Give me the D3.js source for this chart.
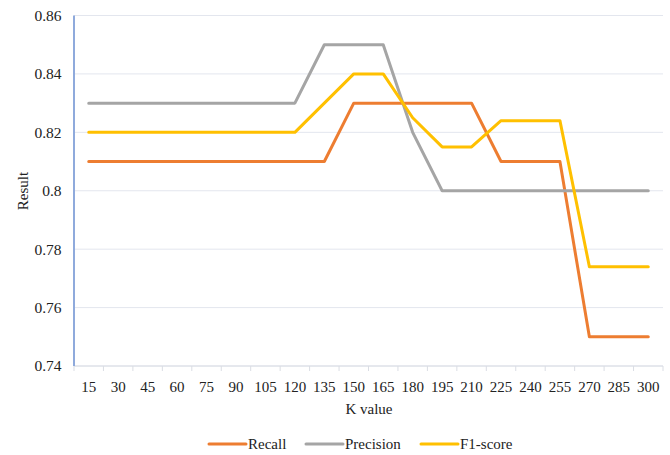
<!DOCTYPE html>
<html>
<head>
<meta charset="utf-8">
<script src="https://cdn.jsdelivr.net/npm/d3@7"></script>
</head>
<body style="margin:0;background:#fff">
<svg id="chart" width="670" height="455" style="display:block" font-family="Liberation Serif, Times New Roman, serif"></svg>
<script>
// K values on the x axis
const kValues = [15, 30, 45, 60, 75, 90, 105, 120, 135, 150, 165, 180, 195, 210, 225, 240, 255, 270, 285, 300];

// Scores per K
const recall    = [0.81, 0.81, 0.81, 0.81, 0.81, 0.81, 0.81, 0.81, 0.81, 0.83, 0.83, 0.83, 0.83, 0.83, 0.81, 0.81, 0.81, 0.75, 0.75, 0.75];
const precision = [0.83, 0.83, 0.83, 0.83, 0.83, 0.83, 0.83, 0.83, 0.85, 0.85, 0.85, 0.82, 0.80, 0.80, 0.80, 0.80, 0.80, 0.80, 0.80, 0.80];
const f1score   = [0.82, 0.82, 0.82, 0.82, 0.82, 0.82, 0.82, 0.82, 0.83, 0.84, 0.84, 0.825, 0.815, 0.815, 0.824, 0.824, 0.824, 0.774, 0.774, 0.774];

const yTicks = [0.74, 0.76, 0.78, 0.80, 0.82, 0.84, 0.86];
const yTickLabels = ["0.74", "0.76", "0.78", "0.8", "0.82", "0.84", "0.86"];

const seriesNames = ["Recall", "Precision", "F1-score"];
const seriesColors = ["#ED7D31", "#A5A5A5", "#FFC000"];
const seriesValues = [recall, precision, f1score];

function draw() {
  const svg = d3.select("#chart");
  const plotLeft = 74, plotRight = 663, plotTop = 15.5, plotBottom = 366;

  const x = d3.scaleBand().domain(kValues).range([plotLeft, plotRight]).padding(0);
  const y = d3.scaleLinear().domain([0.74, 0.86]).range([plotBottom, plotTop]);

  // horizontal gridlines
  svg.append("g").selectAll("line")
    .data(yTicks)
    .join("line")
    .attr("x1", plotLeft).attr("x2", plotRight)
    .attr("y1", d => y(d)).attr("y2", d => y(d))
    .attr("stroke", "#E3E6EE").attr("stroke-width", 1);

  // x axis with ticks between categories
  const xAxis = svg.append("g").attr("transform", `translate(0,${plotBottom})`);
  xAxis.append("line")
    .attr("x1", plotLeft).attr("x2", plotRight).attr("y1", 0).attr("y2", 0)
    .attr("stroke", "#DADDE4").attr("stroke-width", 1);
  const boundaries = kValues.map(k => x(k)).concat([plotRight]);
  xAxis.selectAll("line.tick")
    .data(boundaries)
    .join("line")
    .attr("class", "tick")
    .attr("x1", d => d).attr("x2", d => d)
    .attr("y1", 0).attr("y2", 5)
    .attr("stroke", "#DADDE4").attr("stroke-width", 1);
  xAxis.selectAll("text")
    .data(kValues)
    .join("text")
    .attr("x", d => x(d) + x.bandwidth() / 2)
    .attr("y", 26)
    .attr("text-anchor", "middle")
    .attr("font-size", 15)
    .attr("fill", "#222")
    .text(d => d);

  // y axis line
  svg.append("line")
    .attr("x1", plotLeft).attr("x2", plotLeft)
    .attr("y1", plotTop).attr("y2", plotBottom)
    .attr("stroke", "#8FAADC").attr("stroke-width", 2);

  // y tick labels
  svg.append("g").selectAll("text")
    .data(yTicks)
    .join("text")
    .attr("x", 61.5)
    .attr("y", d => y(d))
    .attr("dy", "0.35em")
    .attr("text-anchor", "end")
    .attr("font-size", 15.5)
    .attr("fill", "#222")
    .text((d, i) => yTickLabels[i]);

  // axis titles
  svg.append("text")
    .attr("transform", `translate(27.5,191) rotate(-90)`)
    .attr("text-anchor", "middle")
    .attr("font-size", 15)
    .attr("fill", "#222")
    .text("Result");

  svg.append("text")
    .attr("x", 369)
    .attr("y", 414)
    .attr("text-anchor", "middle")
    .attr("font-size", 15)
    .attr("fill", "#222")
    .text("K value");

  // series lines
  const line = d3.line()
    .x((d, i) => x(kValues[i]) + x.bandwidth() / 2)
    .y(d => y(d));

  svg.append("g").selectAll("path")
    .data(seriesValues)
    .join("path")
    .attr("d", d => line(d))
    .attr("fill", "none")
    .attr("stroke", (d, i) => seriesColors[i])
    .attr("stroke-width", 3)
    .attr("stroke-linejoin", "round")
    .attr("stroke-linecap", "round");

  // legend
  const legendX = [209, 306, 421];
  const legend = svg.append("g").selectAll("g")
    .data(seriesNames)
    .join("g")
    .attr("transform", (d, i) => `translate(${legendX[i]},444)`);
  legend.append("line")
    .attr("x1", 0).attr("x2", 37).attr("y1", 0).attr("y2", 0)
    .attr("stroke", (d, i) => seriesColors[i])
    .attr("stroke-width", 3)
    .attr("stroke-linecap", "round");
  legend.append("text")
    .attr("x", 39)
    .attr("y", 4.5)
    .attr("font-size", 15)
    .attr("fill", "#222")
    .text(d => d);
}

draw();
</script>
</body>
</html>
